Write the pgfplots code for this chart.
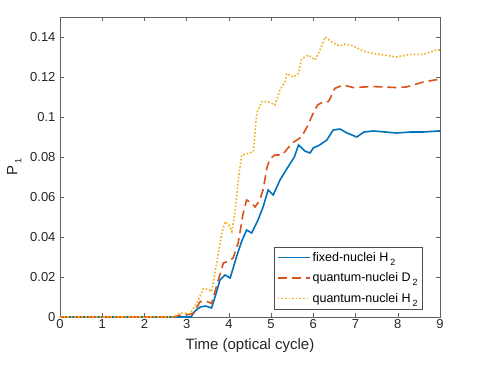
\documentclass[border=0pt]{standalone}
\usepackage{pgfplots}
\pgfplotsset{compat=1.18}
\usepackage{fontspec}
\setmainfont{Liberation Sans}

\definecolor{mblue}{rgb}{0,0.447,0.741}
\definecolor{morange}{rgb}{0.85,0.325,0.098}
\definecolor{myellow}{rgb}{0.929,0.694,0.125}
\definecolor{axgray}{rgb}{0.38,0.38,0.38}

\newcommand{\sub}[1]{\,\raisebox{-4pt}{\small #1}}

\begin{document}
\begin{tikzpicture}[x=1pt,y=1pt]
\useasboundingbox (0,0) rectangle (491,368);
\begin{axis}[
    at={(60pt,51pt)}, anchor=south west,
    scale only axis, width=380pt, height=300pt,
    xmin=0, xmax=9, ymin=0, ymax=0.15,
    xtick={0,1,...,9},
    ytick={0,0.02,0.04,0.06,0.08,0.1,0.12,0.14},
    /pgf/number format/assume math mode=true,
    scaled y ticks=false,
    yticklabel style={/pgf/number format/fixed, xshift=-1pt},
    xticklabel style={yshift=1pt},
    tick label style={font=\fontsize{13}{15}\selectfont, text=black!85},
    tick align=inside, tick pos=both,
    major tick length=4pt,
    axis line style={axgray},
    every tick/.style={axgray},
    xlabel={Time (optical cycle)},
    ylabel={P\sub{1}},
    label style={font=\fontsize{15}{17}\selectfont, text=black!85},
    xlabel style={yshift=-3pt},
    ylabel style={yshift=2pt},
    legend style={at={(0.955,0.027)}, anchor=south east, draw=black!70,
        font=\fontsize{12.5}{14}\selectfont, row sep=6pt, inner sep=3pt,
        cells={anchor=west}},
    legend image code/.code={\draw[#1] (0pt,0pt) -- (32pt,0pt);},
]
\addplot[mblue, line width=1.6pt] coordinates {
(0,0) (3.1,0) (3.2,0.003) (3.32,0.005) (3.45,0.0055) (3.59,0.0045) (3.7,0.012)
(3.79,0.0185) (3.91,0.021) (4.03,0.0195) (4.18,0.030) (4.3,0.0377) (4.42,0.0435)
(4.54,0.042) (4.69,0.0485) (4.81,0.055) (4.93,0.0635) (5.05,0.061) (5.21,0.0685)
(5.4,0.075) (5.55,0.080) (5.65,0.086) (5.8,0.083) (5.92,0.082) (6.0,0.0845)
(6.15,0.086) (6.32,0.0885) (6.47,0.0935) (6.63,0.094) (6.8,0.092) (7.03,0.090)
(7.2,0.0925) (7.42,0.093) (7.7,0.0925) (7.97,0.092) (8.3,0.0925) (8.6,0.0925)
(8.96,0.093) (9,0.093)
};
\addlegendentry{fixed-nuclei H\sub{2}}
\addplot[morange, line width=1.6pt, dash pattern=on 9pt off 5pt] coordinates {
(0,0) (2.7,0) (2.85,0.001) (3.05,0.0012) (3.16,0.002) (3.32,0.0077) (3.45,0.008)
(3.59,0.0068) (3.75,0.0185) (3.87,0.027) (4.0,0.028) (4.1,0.0295) (4.22,0.037)
(4.34,0.052) (4.42,0.0585) (4.54,0.057) (4.62,0.055) (4.72,0.058) (4.81,0.0635)
(4.9,0.0745) (4.97,0.079) (5.09,0.081) (5.25,0.081) (5.33,0.0827) (5.5,0.087)
(5.72,0.090) (5.85,0.095) (6.0,0.102) (6.1,0.106) (6.24,0.1077) (6.36,0.1077)
(6.51,0.1143) (6.71,0.116) (6.95,0.1147) (7.2,0.115) (7.42,0.1152) (7.7,0.115)
(7.97,0.1147) (8.2,0.115) (8.37,0.116) (8.6,0.1175) (8.96,0.1188) (9,0.119)
};
\addlegendentry{quantum-nuclei D\sub{2}}
\addplot[myellow, line width=1.6pt, dash pattern=on 1.6pt off 2pt] coordinates {
(0,0) (2.7,0) (2.84,0.002) (3.08,0.0018) (3.24,0.0068) (3.4,0.0143) (3.5,0.014)
(3.59,0.0127) (3.71,0.0268) (3.83,0.0418) (3.91,0.0477) (4.0,0.046) (4.07,0.0427)
(4.15,0.0535) (4.22,0.068) (4.30,0.081) (4.46,0.0818) (4.58,0.0827) (4.66,0.102)
(4.78,0.1077) (4.93,0.1077) (5.09,0.106) (5.21,0.1135) (5.33,0.1177) (5.37,0.1218)
(5.53,0.120) (5.65,0.1218) (5.72,0.129) (5.88,0.131) (6.04,0.1285) (6.16,0.1335)
(6.28,0.140) (6.47,0.137) (6.63,0.1355) (6.75,0.1365) (6.95,0.1355) (7.18,0.133)
(7.4,0.1318) (7.58,0.1313) (7.97,0.130) (8.29,0.1313) (8.6,0.1313) (8.92,0.1335)
(9,0.1335)
};
\addlegendentry{quantum-nuclei H\sub{2}}
\end{axis}
\end{tikzpicture}
\end{document}
